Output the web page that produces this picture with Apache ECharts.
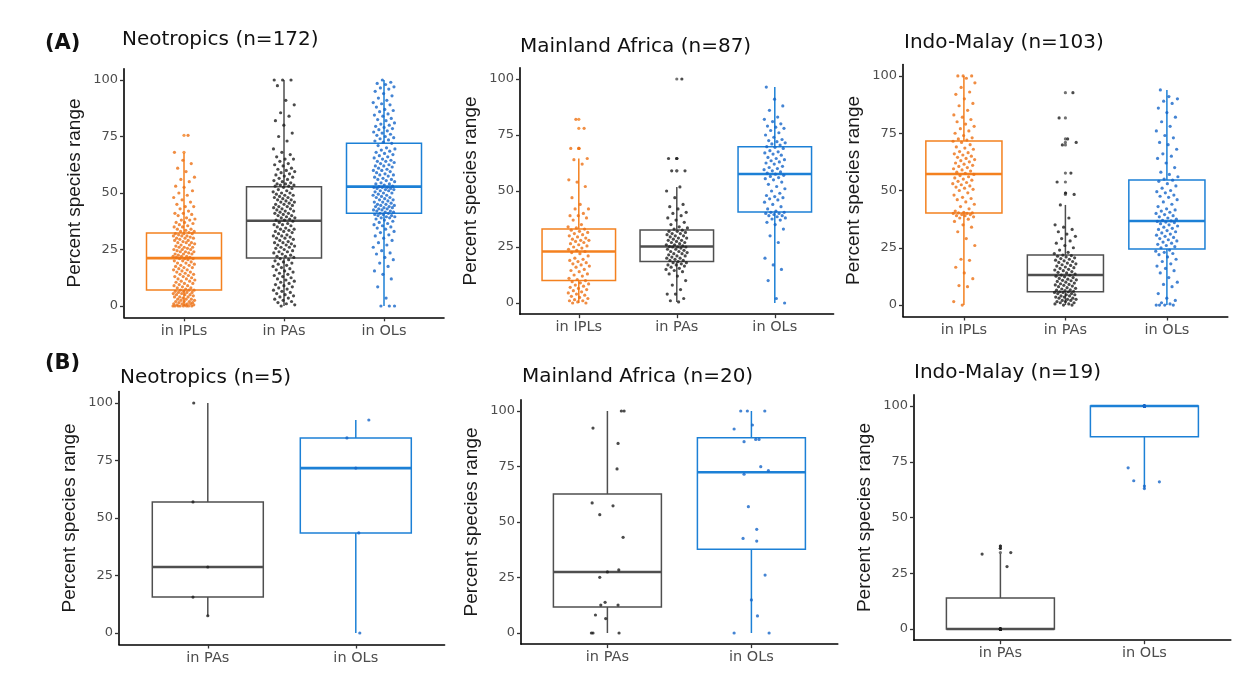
<!DOCTYPE html>
<html>
<head>
<meta charset="utf-8">
<script src="https://cdn.jsdelivr.net/npm/echarts@6/dist/echarts.min.js"></script>
<style>
html,body{margin:0;padding:0;background:#fff;}
#chart{width:1248px;height:688px;}
</style>
</head>
<body>
<div id="chart"></div>
<script>
// ---------- categories & titles ----------
const catsA = ['in IPLs', 'in PAs', 'in OLs'];
const catsB = ['in PAs', 'in OLs'];
const titlesA = ['Neotropics (n=172)', 'Mainland Africa (n=87)', 'Indo-Malay (n=103)'];
const titlesB = ['Neotropics (n=5)', 'Mainland Africa (n=20)', 'Indo-Malay (n=19)'];
const yTicks = [0, 25, 50, 75, 100];
const yName = 'Percent species range';

// ---------- (A) Neotropics ----------
const neoA_IPLs = [0,0,0,0,0,0,0,0,0.5,0.5,0.5,1,1,1,1,1.5,1.5,2,2,2,2.5,2.5,3,3,3,3.5,4,4,4,4.5,5,5,5,5.5,5.5,6,6,6,6.5,6.5,7,7,7,
 7.5,8,8,8.5,9,9,9.5,10,10,10.5,11,11,11.5,12,12,12.5,13,13,13.5,14,14,14.5,15,15,15.5,16,16,16.5,17,17,17.5,18,18,18.5,19,19,19.5,20,20,20.5,21,21,21,
 21.5,21.5,22,22,22,22.5,23,23,23,23.5,24,24,24,24.5,25,25,25,25.5,26,26,26,26.5,27,27,27.5,28,28,28,28.5,29,29,29.5,30,30,30,30.5,31,31,31,31.5,32,32,32,
 32.5,33,33,33.5,34,34,35,35,35.5,36,36.5,37,37,38,38,38.5,39,40,40.5,41,41,42,43,44,44,45,46,47,48,49,50,51,52.5,53,55,56,57,59.5,61,63,64.5,68,75.5];
const neoA_PAs = [0,0.5,1,1.5,2,2.5,3,3.5,4,4.5,5,5.5,6,6.5,7,7.5,8,8.5,9,9.5,10,10.5,11,11.5,12,12.5,13,13.5,14,14.5,15,15.5,16,16.5,17,17.5,18,18.5,19,19.5,20,20.5,21,
 21.5,22,22,22.5,23,23.5,24,24,24.5,25,25.5,26,26,26.5,27,27,27.5,28,28,28.5,29,29.5,30,30,30.5,31,31,31.5,32,32.5,33,33,33.5,34,34,34.5,35,35.5,36,36,36.5,37,37.5,
 38,38,38.5,39,39,39.5,40,40,40.5,41,41,41.5,42,42,42.5,43,43,43.5,44,44,44.5,45,45,45.5,46,46,46.5,47,47,47.5,48,48,48.5,49,49,49.5,50,50,50.5,51,51.5,52,52.5,
 53,53,53.5,53.5,54,54,54.5,55,55.5,56,56.5,57,57.5,58,58.5,59,59.5,60,60.5,61,62,62.5,63,64,65,65,66,67,68,69.5,73,75,76.5,80,82,84,85.5,89,91,97.5,100,100,100];
const neoA_OLs = [0,0,0,3.5,8.5,12,14,15.5,17.5,19,20.5,21.5,23,23.5,24.5,26,27,28,29,30,31,31.5,32.5,33,34,34.5,35,35.5,36,36.5,37,37.5,38,38.5,39,39,39.5,39.5,40,40,40.5,40.5,41,
 41,41.5,41.5,42,42,42.5,42.5,43,43,43.5,43.5,44,44,44.5,44.5,45,45,45.5,46,46,46.5,47,47,47.5,48,48,48.5,49,49,49.5,50,50,50.5,51,51,51.5,51.5,52,52,52.5,52.5,52.5,52.8,
 53,53.5,54,54,54.5,55,55.5,56,56,56.5,57,57.5,58,58,58.5,59,59.5,60,60,60.5,61,61.5,62,62,62.5,63,63.5,64,64,64.5,65,65.5,66,66.5,67,67.5,68,68.5,69,69.5,70,71,72,
 72.5,73,73.5,74,74.5,75,75.5,76,76.5,77,77.5,78,78.5,79,79.5,80,80.5,81,82,82.5,83,84,84.5,85,86,86.5,87,88,89,89.5,90,91,92,93,94,95,96,96.5,97,98,98.5,99,100];
// box stats: [lower whisker, Q1, median, Q3, upper whisker]
const neoA_box = [[0, 7.1, 21.2, 32.3, 67.7], [0, 21.2, 37.7, 52.8, 100], [0, 41, 52.8, 72, 100]];

// ---------- (A) Mainland Africa ----------
const afrA_IPLs = [0,0,0.5,1,1,1.5,2,2.5,3,3.5,4,4.5,5,5.5,6,6.5,7,7.5,8,8.5,9,9.5,
 10,10.5,11,12,12.5,13,14,14.5,15,16,16.5,17,17.5,18,18.5,19,19.5,20,21,22,22.5,
 23,23.5,24,24.5,25,25.5,26,26.5,27,27.5,28,28,28.5,29,29.5,30,30.5,31,31.5,32,32.5,33,
 33.5,34,35,37,38,39,39,40,42,42,44,47,52,54,55,62,64,64.5,69,69,78,82];
const afrA_PAs = [0.5,1,2,4,4,6,8,10,12,13,14,14.5,15,15.5,16,16.5,17,17,17.5,18,18,18.5,
 19,19,19.5,20,20,20.5,21,21,21.5,22,22,22.5,23,23,23.5,24,24,24.5,25,25,25,25.2,
 25.5,26,26,26.5,27,27,27.5,28,28,28.5,29,29,29.5,30,30,30.5,31,31,31.5,32,32,32.5,
 33,33.5,34,35,36,37,38,39,40,40.5,42,43,44,47,50,51.8,59,59,64.5,64.5,100];
const afrA_OLs = [0,2,10,15,17,20,27,30,33,35,36,37,37.5,38,38.5,39,39,39.5,40,40,40.5,40.5,
 41,42,43,44,45,46,46.5,47,47.5,48,49,50,51,52,53,54,55,55.5,56,56.5,57,57.5,
 58,58.5,59,59.5,60,60.5,61,62,62.5,63,63.5,64,64.5,65,66,66.5,67,67.5,68,69,69.5,69.8,
 70.5,71,71.5,72,72.5,73,74,75,76,77,78,78.5,79,80,81,82,83,86,88,91,96.4];
const afrA_box = [[0, 10, 23, 33, 64.5], [0.5, 18.5, 25.2, 32.6, 51.8], [0, 40.6, 57.6, 69.8, 96.4]];

// ---------- (A) Indo-Malay ----------
const indA_IPLs = [0,1.5,8,8.5,11.5,14,16.5,19.5,20,26,29,32,34,35,36.5,37.5,38,38.5,39,39,39.5,39.5,40,40,40.2,40.2,
 40.5,41,42,43,44,45,46,46.5,47,48,49,50,50.5,51,51.5,52,52.5,53,53.5,54,54.5,55,55.5,56,56.5,57,
 57.5,58,58.5,59,59.5,60,60.5,61,61.5,62,62.5,63,63.5,64,64.5,65,65.5,66,66.5,67,68,68.5,69,70,71,71.5,
 72,72.5,73,74,75,76,77,78,79,80,81,82,83,85,87,88,90,92,93,95,97,99,100,100,100];
const indA_PAs = [0,0,0.5,0.5,1,1,1.5,1.5,2,2,2.5,2.5,3,3,3.5,3.5,4,4,4.5,4.5,5,5,5.5,5.5,5.8,5.8,
 6,6.3,6.5,6.6,7,7.3,7.6,8,8.3,8.6,8.8,9,9.3,9.6,10,10.3,10.6,10.8,11,11.3,11.6,12,12.3,12.6,13,13.1,
 13.5,14,14.3,14.6,15,15.3,15.6,16,16.3,16.6,17,17.3,17.6,18,18.3,18.6,19,19.3,19.6,20,20.3,20.6,21,21.3,21.6,21.8,
 22.5,23,24,25,26,27,28,29,30,31,32,33,34,35,38,43.7,48.3,48.9,53.7,57.6,69.9,71,72.5,81.7,92.7];
const indA_OLs = [0,0,0,0,0.5,1,2,3,5,8,9,10,12,14,15,16,17,18,19,20,21,22,22.5,23,23.5,24,
 25,25.5,26,26.5,27,27.5,28,28.5,29,29.5,30,30.5,31,31.5,32,32.5,33,33.5,34,34.5,35,35.5,36,36.2,36.5,36.7,
 37,37.5,38,38.5,39,39.5,40,40.5,41,41.5,42,43,44,45,46,47,47.5,48,49,49.5,50,51,52,53,54,54.5,
 55,56,57,58,60,62,64,65,66,68,70,71,73,74,76,78,80,82,84,86,88,89,90,91,93.9];
const indA_box = [[0, 40.2, 57.2, 71.6, 100], [0, 5.8, 13.1, 21.8, 43.7], [0, 24.5, 36.7, 54.6, 93.9]];

// ---------- (B) Neotropics ----------
const neoB_PAs = [100, 57, 28.7, 15.6, 7.5];
const neoB_PAs_jit = [-0.095, -0.1, 0, -0.1, 0];
const neoB_OLs = [92.6, 84.8, 71.7, 43.5, 0];
const neoB_OLs_jit = [0.088, -0.06, 0, 0.02, 0.027];
const neoB_box = [[7.5, 15.6, 28.7, 57, 100], [0, 43.5, 71.7, 84.8, 92.6]];

// ---------- (B) Mainland Africa ----------
const afrB_PAs = [100, 100, 92.3, 85.4, 73.9, 58.6, 57.3, 53.3, 43.1, 28.4, 27.5, 25.1, 13.8, 12.6, 12.6, 8.1, 6.5, 0, 0, 0];
const afrB_PAs_jit = [0.116, 0.097, -0.1, 0.074, 0.067, -0.106, 0.039, -0.053, 0.109, 0.079, 0, -0.053, -0.016, -0.046, 0.074, -0.083, -0.012, -0.111, -0.1, 0.081];
const afrB_OLs = [100, 100, 100, 93.7, 91.9, 86.2, 87.2, 87.2, 74.9, 73.1, 71.5, 56.9, 46.7, 42.6, 41.4, 26.1, 14.9, 7.7, 0, 0];
const afrB_OLs_jit = [-0.074, -0.028, 0.093, 0.007, -0.12, -0.051, 0.03, 0.053, 0.065, 0.118, -0.051, -0.021, 0.037, -0.058, 0.037, 0.095, 0, 0.042, -0.12, 0.123];
const afrB_box = [[0, 11.7, 27.5, 62.6, 100], [0, 37.7, 72.4, 88, 100]];

// ---------- (B) Indo-Malay ----------
const indB_PAs = [33.6, 37.2, 36.2, 34.3, 28, 0, 0, 0, 0, 0, 0, 0, 0, 0, 0, 0, 0, 0, 0];
const indB_PAs_jit = [-0.127, 0, 0, 0.072, 0.046, 0, 0, 0, 0, 0, 0, 0, 0, 0, 0, 0, 0, 0, 0];
const indB_OLs = [72.3, 66.5, 64.1, 63, 66, 100, 100, 100, 100, 100, 100, 100, 100, 100, 100, 100, 100, 100, 100];
const indB_OLs_jit = [-0.113, -0.074, 0, 0, 0.104, 0, 0, 0, 0, 0, 0, 0, 0, 0, 0, 0, 0, 0, 0];
const indB_box = [[0, 0, 0, 13.9, 33.9], [63, 86.2, 100, 100, 100]];

// ---------- styling ----------
const boxColor = {IPLs: '#F4811F', PAs: '#4F4F4F', OLs: '#1C80D6'};
const ptColor = {IPLs: '#EC7014', PAs: '#1E1E1E', OLs: '#1565C8'};
const FONT = 'DejaVu Sans';

const panels = [
  {title: titlesA[0], cats: catsA, keys: ['IPLs','PAs','OLs'], groups: [neoA_IPLs, neoA_PAs, neoA_OLs], box: neoA_box,
   grid: {left: 124, top: 68.7, width: 320, height: 248.6}, tpos: [122, 40]},
  {title: titlesA[1], cats: catsA, keys: ['IPLs','PAs','OLs'], groups: [afrA_IPLs, afrA_PAs, afrA_OLs], box: afrA_box,
   grid: {left: 520, top: 67.8, width: 313.6, height: 246.4}, tpos: [520, 47]},
  {title: titlesA[2], cats: catsA, keys: ['IPLs','PAs','OLs'], groups: [indA_IPLs, indA_PAs, indA_OLs], box: indA_box,
   grid: {left: 903, top: 64.5, width: 324.8, height: 252}, tpos: [904, 43]},
  {title: titlesB[0], cats: catsB, keys: ['PAs','OLs'], groups: [neoB_PAs, neoB_OLs], jit: [neoB_PAs_jit, neoB_OLs_jit], box: neoB_box,
   grid: {left: 119, top: 391.5, width: 325.6, height: 253}, tpos: [120, 378]},
  {title: titlesB[1], cats: catsB, keys: ['PAs','OLs'], groups: [afrB_PAs, afrB_OLs], jit: [afrB_PAs_jit, afrB_OLs_jit], box: afrB_box,
   grid: {left: 521, top: 399.9, width: 316.8, height: 244.2}, tpos: [522, 377]},
  {title: titlesB[2], cats: catsB, keys: ['PAs','OLs'], groups: [indB_PAs, indB_OLs], jit: [indB_PAs_jit, indB_OLs_jit], box: indB_box,
   grid: {left: 914, top: 394.9, width: 316.8, height: 245.3}, tpos: [914, 373]}
];

const grids = [], xAxes = [], yAxes = [], series = [], graphics = [];

panels.forEach((p, pi) => {
  const n = p.cats.length;
  grids.push(Object.assign({containLabel: false}, p.grid));
  const ticksX = p.cats.map((c, i) => i + 1);
  xAxes.push({
    type: 'value', gridIndex: pi, min: 0.4, max: n + 0.6,
    axisLine: {show: true, onZero: false, lineStyle: {color: '#000', width: 1.6}},
    axisTick: {show: true, length: 4, customValues: ticksX, lineStyle: {color: '#333', width: 1.3}},
    axisLabel: {customValues: ticksX, formatter: v => p.cats[Math.round(v) - 1] || '', fontFamily: FONT, fontSize: 14.5, color: '#4D4D4D', margin: 6},
    splitLine: {show: false}
  });
  yAxes.push({
    type: 'value', gridIndex: pi, min: -5, max: 105,
    axisLine: {show: true, onZero: false, lineStyle: {color: '#000', width: 1.6}},
    axisTick: {show: true, length: 4, customValues: yTicks, lineStyle: {color: '#333', width: 1.3}},
    axisLabel: {customValues: yTicks, fontFamily: FONT, fontSize: 13, color: '#4D4D4D', margin: 6},
    splitLine: {show: false},
    name: yName, nameLocation: 'middle', nameGap: 40,
    nameTextStyle: {fontFamily: 'Liberation Sans', fontSize: 19, color: '#1A1A1A'}
  });
  // boxes
  const boxData = p.box.map((b, i) => [i + 1, b[0], b[1], b[2], b[3], b[4], i]);
  series.push({
    type: 'custom', xAxisIndex: pi, yAxisIndex: pi, z: 2, silent: true,
    encode: {x: 0, y: [1, 2, 3, 4, 5]},
    data: boxData,
    renderItem: function (params, api) {
      const x = api.value(0), low = api.value(1), q1 = api.value(2), med = api.value(3), q3 = api.value(4), high = api.value(5);
      const col = boxColor[p.keys[api.value(6)]];
      const hw = 0.375;
      const tl = api.coord([x - hw, q3]), br = api.coord([x + hw, q1]);
      const pt = api.coord([x, high]), pb = api.coord([x, low]);
      const pq3 = api.coord([x, q3]), pq1 = api.coord([x, q1]);
      const ml = api.coord([x - hw, med]), mr = api.coord([x + hw, med]);
      return {type: 'group', children: [
        {type: 'line', shape: {x1: pt[0], y1: pt[1], x2: pq3[0], y2: pq3[1]}, style: {stroke: col, lineWidth: 1.5}},
        {type: 'line', shape: {x1: pq1[0], y1: pq1[1], x2: pb[0], y2: pb[1]}, style: {stroke: col, lineWidth: 1.5}},
        {type: 'rect', shape: {x: tl[0], y: tl[1], width: br[0] - tl[0], height: br[1] - tl[1]}, style: {fill: '#fff', stroke: col, lineWidth: 1.5}},
        {type: 'line', shape: {x1: ml[0], y1: ml[1], x2: mr[0], y2: mr[1]}, style: {stroke: col, lineWidth: 2.6}}
      ]};
    }
  });
  // outliers (drawn at the category centre, as the boxplot does)
  p.groups.forEach((g, gi) => {
    const b = p.box[gi];
    const outs = g.filter(v => v > b[4] + 0.01 || v < b[0] - 0.01).map(v => [gi + 1, v]);
    if (outs.length) series.push({
      type: 'scatter', xAxisIndex: pi, yAxisIndex: pi, z: 3, silent: true,
      symbol: 'circle', symbolSize: 3.2, itemStyle: {color: boxColor[p.keys[gi]]}, data: outs
    });
  });
  // jittered points
  p.groups.forEach((g, gi) => {
    const data = g.map((v, k) => {
      let dx;
      if (p.jit) dx = p.jit[gi][k];
      else { const f = (k * 0.6180339887 + gi * 0.371 + pi * 0.213) % 1; dx = (f * 2 - 1) * 0.11; }
      return [gi + 1 + dx, v];
    });
    series.push({
      type: 'scatter', xAxisIndex: pi, yAxisIndex: pi, z: 4, silent: true,
      symbol: 'circle', symbolSize: 3.2, itemStyle: {color: ptColor[p.keys[gi]]}, data: data
    });
  });
  graphics.push({
    type: 'text', x: p.tpos[0], y: p.tpos[1],
    style: {text: p.title, font: '20px "DejaVu Sans"', fill: '#111', textAlign: 'left', textVerticalAlign: 'middle'}
  });
});

graphics.push({type: 'text', x: 45, y: 44, style: {text: '(A)', font: 'bold 21px "DejaVu Sans"', fill: '#111', textAlign: 'left', textVerticalAlign: 'middle'}});
graphics.push({type: 'text', x: 45, y: 364, style: {text: '(B)', font: 'bold 21px "DejaVu Sans"', fill: '#111', textAlign: 'left', textVerticalAlign: 'middle'}});

const chart = echarts.init(document.getElementById('chart'), null, {renderer: 'canvas'});
chart.setOption({
  animation: false,
  backgroundColor: '#fff',
  grid: grids, xAxis: xAxes, yAxis: yAxes, series: series, graphic: graphics
});
</script>
</body>
</html>
